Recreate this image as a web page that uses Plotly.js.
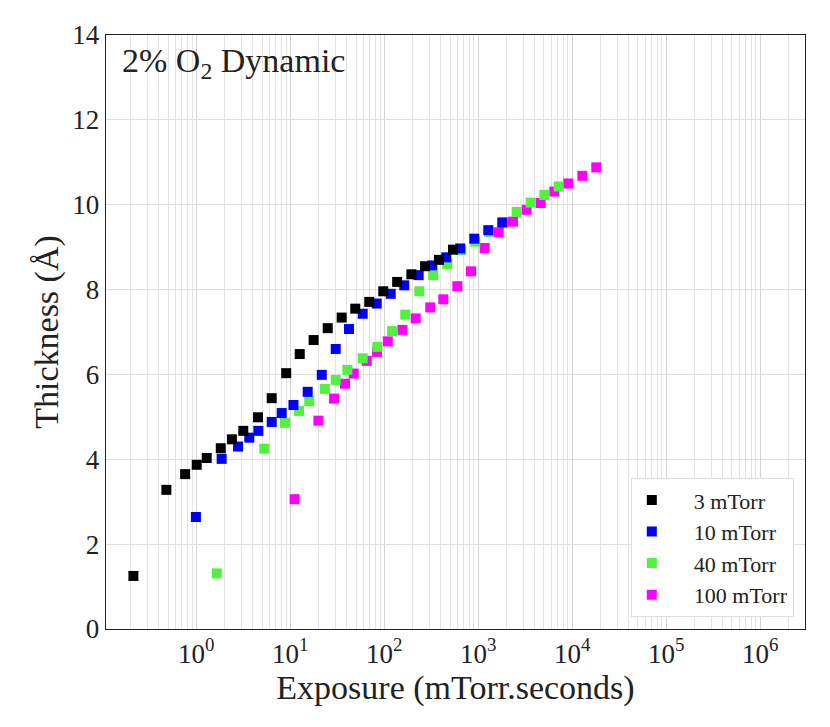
<!DOCTYPE html>
<html>
<head>
<meta charset="utf-8">
<script src="https://cdn.plot.ly/plotly-3.0.1.min.js"></script>
<style>
  body { margin: 0; background: #fff; }
  #plot { width: 830px; height: 727px; }
</style>
</head>
<body>
<div id="plot"></div>
<script>
// exposure (mTorr.s) and thickness (Angstrom) per pressure
var exp3 = [0.214, 0.48, 0.76, 1.01, 1.29, 1.82, 2.39, 3.16, 4.53, 6.34, 9.04, 12.6, 17.7, 25.0, 35.2, 49.1, 69.2, 97.5, 137, 194, 271, 382, 538];
var thk3 = [1.25, 3.28, 3.65, 3.87, 4.03, 4.26, 4.47, 4.67, 4.99, 5.44, 6.03, 6.48, 6.81, 7.09, 7.34, 7.55, 7.71, 7.96, 8.18, 8.36, 8.55, 8.70, 8.94];

var exp10 = [0.99, 1.86, 2.78, 3.66, 4.57, 6.34, 8.10, 10.8, 15.3, 21.6, 30.4, 42.1, 58.9, 83.0, 117, 163, 232, 324, 456, 642, 906, 1277, 1800];
var thk10 = [2.64, 4.01, 4.30, 4.51, 4.67, 4.88, 5.09, 5.28, 5.59, 5.99, 6.60, 7.07, 7.43, 7.67, 7.90, 8.10, 8.34, 8.57, 8.76, 8.97, 9.20, 9.40, 9.58];

var exp40 = [1.65, 5.29, 8.78, 12.4, 15.9, 23.3, 30.4, 40.4, 58.9, 84.3, 121, 167, 236, 332, 468, 658, 927, 1300, 1830, 2560, 3610, 5040, 7170];
var thk40 = [1.31, 4.25, 4.86, 5.14, 5.37, 5.66, 5.87, 6.11, 6.38, 6.65, 7.02, 7.41, 7.96, 8.34, 8.60, 8.93, 9.13, 9.36, 9.59, 9.83, 10.05, 10.23, 10.43];

var exp100 = [11.1, 19.9, 29.2, 38.2, 47.3, 65.0, 83.6, 109, 156, 216, 308, 424, 598, 836, 1170, 1650, 2340, 3270, 4610, 6440, 9060, 12800, 18000];
var thk100 = [3.06, 4.91, 5.43, 5.78, 6.02, 6.32, 6.53, 6.78, 7.05, 7.32, 7.58, 7.77, 8.08, 8.43, 8.98, 9.35, 9.60, 9.88, 10.04, 10.31, 10.50, 10.68, 10.88];

var xTickVals = [1, 10, 100, 1000, 10000, 100000, 1000000];
var xTickText = ['10<sup>0</sup>', '10<sup>1</sup>', '10<sup>2</sup>', '10<sup>3</sup>',
                 '10<sup>4</sup>', '10<sup>5</sup>', '10<sup>6</sup>'];

var serif = 'Liberation Serif';
var pad = '\u00a0\u00a0\u00a0\u00a0';  // push legend text right like the original

function series(x, y, name, color, rank) {
  return {
    x: x, y: y, name: pad + name,
    type: 'scatter', mode: 'markers',
    legendrank: rank,
    marker: { symbol: 'square', size: 10, color: color }
  };
}

// drawn back to front: 100 under 40 under 10 under 3
var traces = [
  series(exp100, thk100, '100 mTorr', '#ff00ff', 4),
  series(exp40, thk40, '40 mTorr', '#52f03f', 3),
  series(exp10, thk10, '10 mTorr', '#0000ff', 2),
  series(exp3, thk3, '3 mTorr', '#000000', 1)
];

var layout = {
  width: 830, height: 727,
  margin: { l: 106, r: 25, t: 35, b: 98 },
  paper_bgcolor: '#fff', plot_bgcolor: '#fff',
  font: { family: serif, color: '#222', size: 24 },
  showlegend: true,
  xaxis: {
    type: 'log',
    range: [-0.961, 6.476],
    tickvals: xTickVals, ticktext: xTickText,
    tickfont: { family: serif, size: 27 },
    showgrid: true, gridcolor: '#d4d4d4', gridwidth: 1,
    minor: { dtick: 'D1', showgrid: true, gridcolor: '#e2e2e2', gridwidth: 1, ticks: '' },
    showline: true, mirror: true, linecolor: '#222', linewidth: 1.3,
    ticks: '', zeroline: false,
    title: { text: 'Exposure (mTorr.seconds)', font: { family: serif, size: 34 }, standoff: 2 }
  },
  yaxis: {
    range: [0, 14], dtick: 2,
    tickfont: { family: serif, size: 27 },
    showgrid: true, gridcolor: '#dedede', gridwidth: 1,
    showline: true, mirror: true, linecolor: '#222', linewidth: 1.3,
    ticks: '', zeroline: false,
    title: { text: 'Thickness (Å)', font: { family: serif, size: 34 }, standoff: 3 }
  },
  legend: {
    x: 0.984, y: 0.02, xanchor: 'right', yanchor: 'bottom',
    bgcolor: '#fff', bordercolor: '#dddddd', borderwidth: 1,
    font: { family: serif, size: 22, color: '#222' }
  },
  annotations: [{
    text: '2% O<sub>2</sub> Dynamic',
    xref: 'paper', yref: 'paper', x: 0.02, y: 0.992,
    xanchor: 'left', yanchor: 'top', showarrow: false,
    font: { family: serif, size: 34, color: '#222' }
  }]
};

Plotly.newPlot('plot', traces, layout, { displayModeBar: false, staticPlot: true });
</script>
</body>
</html>
